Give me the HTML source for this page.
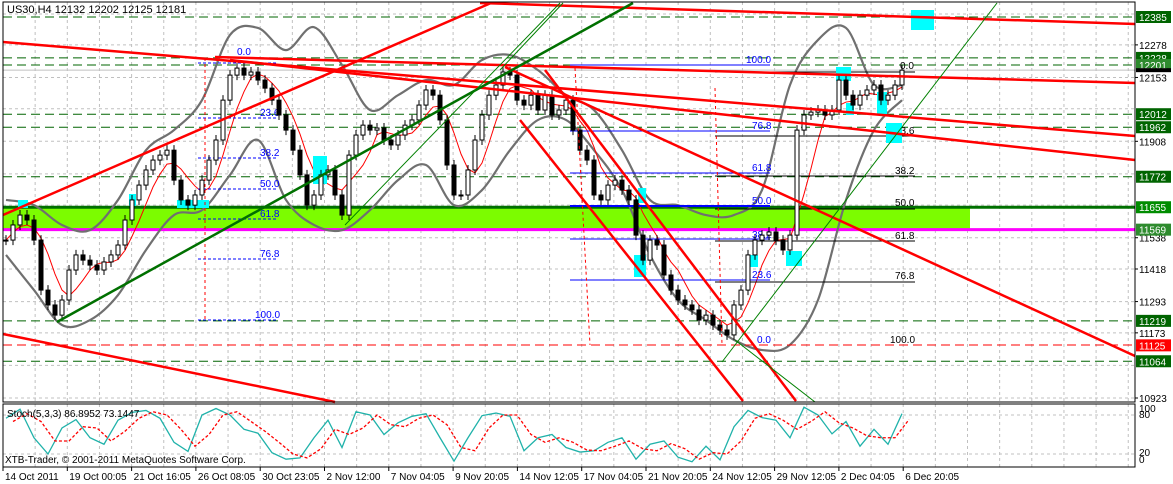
<!DOCTYPE html>
<html><head><meta charset="utf-8"><style>
html,body{margin:0;padding:0;background:#fff;}
svg{display:block;font-family:"Liberation Sans",sans-serif;}
</style></head><body>
<svg id="chart" width="1173" height="484" viewBox="0 0 1173 484" xmlns="http://www.w3.org/2000/svg">
<rect x="0" y="0" width="1173" height="484" fill="#fff"/>
<g id="grid"></g>
<g id="levels">
  <rect x="3" y="207" width="967" height="22" fill="#7cfc00"/>
</g>
<g id="bands"></g>
<g id="fibs" font-size="10" fill="#0000ff">
  <g stroke="#0000ff" stroke-width="1" stroke-dasharray="3,2">
    <line x1="198" y1="63" x2="278" y2="63"/><line x1="198" y1="118" x2="278" y2="118"/><line x1="198" y1="158" x2="278" y2="158"/><line x1="198" y1="189" x2="278" y2="189"/><line x1="198" y1="219" x2="278" y2="219"/><line x1="198" y1="259" x2="278" y2="259"/><line x1="198" y1="320" x2="278" y2="320"/>
  </g>
  <text x="237" y="55">0.0</text>
  <text x="260" y="116">23.6</text>
  <text x="260" y="156">38.2</text>
  <text x="260" y="187">50.0</text>
  <text x="260" y="217">61.8</text>
  <text x="260" y="257">76.8</text>
  <text x="255" y="318">100.0</text>
  <g stroke="#0000ff" stroke-width="1">
    <line x1="570" y1="65" x2="770" y2="65"/><line x1="570" y1="131" x2="770" y2="131"/><line x1="570" y1="173" x2="770" y2="173"/><line x1="570" y1="206" x2="770" y2="206" stroke-width="2"/><line x1="570" y1="239" x2="770" y2="239"/><line x1="570" y1="280" x2="770" y2="280"/>
  </g>
  <text x="746" y="63">100.0</text>
  <text x="752" y="129">76.8</text>
  <text x="752" y="171">61.8</text>
  <text x="752" y="204">50.0</text>
  <text x="752" y="238">38.2</text>
  <text x="752" y="278">23.6</text>
  <text x="757" y="343">0.0</text>
  <g stroke="#000" stroke-width="1">
    <line x1="715" y1="72" x2="915" y2="72"/><line x1="715" y1="136" x2="915" y2="136"/><line x1="715" y1="176" x2="915" y2="176"/><line x1="715" y1="209" x2="915" y2="209"/><line x1="715" y1="241" x2="915" y2="241"/><line x1="715" y1="282" x2="915" y2="282"/>
  </g>
  <g fill="#000">
  <text x="900" y="69">0.0</text>
  <text x="895" y="134">23.6</text>
  <text x="895" y="174">38.2</text>
  <text x="895" y="206">50.0</text>
  <text x="895" y="239">61.8</text>
  <text x="895" y="279">76.8</text>
  <text x="890" y="343">100.0</text>
  </g>
</g>
<g id="boxes" fill="#00ffff">
  <rect x="911" y="10" width="23" height="20"/><rect x="836" y="67" width="15" height="14"/><rect x="877" y="92" width="10" height="22"/><rect x="886" y="123" width="16" height="20"/><rect x="846" y="103" width="8" height="12"/>
  <rect x="313" y="156" width="14" height="28"/><rect x="129" y="194" width="7" height="12"/><rect x="177" y="200" width="32" height="8"/><rect x="18" y="200" width="10" height="8"/><rect x="638" y="188" width="8" height="15"/><rect x="634" y="255" width="12" height="22"/><rect x="786" y="251" width="16" height="15"/><rect x="750" y="255" width="8" height="12"/>
</g>
<g id="candles"></g>
<g id="trend" stroke-linecap="butt" fill="none">
  <g stroke="#ff0000" stroke-width="2.5">
    <line x1="3" y1="42" x2="1135" y2="136"/>
    <line x1="215" y1="57" x2="1135" y2="83"/>
    <line x1="230" y1="60" x2="1135" y2="160"/>
    <line x1="480" y1="3" x2="1135" y2="24"/>
    <line x1="3" y1="215" x2="491" y2="3"/>
    <line x1="520" y1="120" x2="743" y2="401"/>
    <line x1="545" y1="70" x2="796" y2="401"/>
    <line x1="505" y1="67" x2="1135" y2="356"/>
    <line x1="3" y1="334" x2="335" y2="402"/>
  </g>
  <g stroke="#ff0000" stroke-width="1" stroke-dasharray="3,3">
    <line x1="205" y1="58" x2="205" y2="320"/><line x1="575" y1="68" x2="590" y2="345"/><line x1="715" y1="88" x2="722" y2="345"/>
  </g>
  <line x1="3" y1="345" x2="1135" y2="345" stroke="#ff0000" stroke-width="1" stroke-dasharray="9,5"/>
  <line x1="57" y1="322" x2="633" y2="3" stroke="#007000" stroke-width="2.5"/>
  <g stroke="#008000" stroke-width="1">
    <line x1="345" y1="225" x2="560" y2="3"/><line x1="500" y1="70" x2="563" y2="3"/><line x1="722" y1="362" x2="997" y2="3"/><line x1="735" y1="340" x2="815" y2="402"/>
  </g>
</g>
<g id="axis" font-size="10"></g>
<g id="stoch"></g>
<rect x="3" y="2" width="1132" height="400" fill="none" stroke="#000" stroke-width="1"/>
<rect x="3" y="404" width="1132" height="63" fill="none" stroke="#000" stroke-width="1"/>
<text x="7" y="13" font-size="11" fill="#000">US30,H4  12132 12202 12125 12181</text>
<text x="7" y="417" font-size="10" fill="#000">Stoch(5,3,3) 86.8952 73.1447</text>
<text x="5" y="463" font-size="10" fill="#000">XTB-Trader, © 2001-2011 MetaQuotes Software Corp.</text>
<g id="xaxis" font-size="10"></g>
</svg>
<script>
const closes=[11529,11587,11625,11606,11529,11337,11280,11241,11299,11414,11472,11452,11433,11414,11445,11472,11510,11606,11683,11740,11798,11836,11855,11874,11759,11683,11663,11702,11759,11836,11913,12066,12162,12189,12162,12174,12143,12112,12066,12009,11951,11874,11779,11663,11702,11779,11798,11702,11625,11855,11932,11970,11951,11959,11913,11894,11932,11970,11990,12047,12105,12085,11990,11817,11702,11702,11798,11913,12009,12085,12124,12174,12162,12066,12047,12085,12028,12085,12009,12028,12066,11951,11874,11836,11702,11683,11740,11759,11721,11683,11548,11452,11529,11510,11395,11337,11299,11280,11261,11222,11241,11203,11184,11165,11280,11337,11472,11529,11548,11560,11529,11491,11548,11951,12009,12020,12028,12009,12028,12143,12085,12047,12085,12105,12124,12066,12085,12124,12181];
const bandUpper=[11683,11663,11587,11567,11683,11874,11951,12066,12316,12343,12258,12346,12201,12028,12085,12143,12124,12220,12239,12181,12085,12028,11874,11683,11663,11625,11625,11721,12124,12297,12343,12124,12124];
const bandLower=[11472,11337,11203,11222,11318,11491,11625,11644,11779,11913,11683,11587,11567,11644,11759,11817,11663,11721,11874,11990,11990,11874,11721,11472,11299,11222,11146,11107,11127,11299,11683,11951,12066];
const stochMain=[75,89,45,20,60,73,45,35,72,84,87,75,38,24,80,90,80,58,52,22,12,14,45,72,30,85,80,50,68,78,82,45,9,45,79,83,78,25,45,50,30,23,25,38,45,12,35,40,15,8,32,11,62,87,76,72,45,92,80,51,70,32,58,35,82];
const stochSignal=[70,82,70,40,40,62,60,40,55,75,85,80,58,32,50,80,85,70,55,38,20,14,28,58,50,60,80,65,62,75,80,65,30,25,60,80,80,50,38,45,38,26,25,32,40,28,25,36,28,12,22,20,40,75,82,72,58,70,85,68,60,48,45,45,73];
const priceTicks=[12278,12153,11908,11538,11418,11293,11173,10923];
const gridTicks=[12278,12153,12033,11908,11783,11663,11538,11418,11293,11173,11048,10923];
const levelTags=[[12385,"#006400"],[12228,"#006400"],[12201,"#2e8b2e"],[12012,"#006400"],[11962,"#006400"],[11772,"#006400"],[11655,"#008c00"],[11569,"#2e8b2e"],[11219,"#006400"],[11064,"#006400"]];
const dashedLevels=[12385,12228,12201,12012,11962,11772,11219,11064];
const dateLabels=["14 Oct 2011","19 Oct 00:05","21 Oct 16:05","26 Oct 08:05","30 Oct 23:05","2 Nov 12:00","7 Nov 04:05","9 Nov 20:05","14 Nov 12:05","17 Nov 04:05","21 Nov 20:05","24 Nov 12:05","29 Nov 12:05","2 Dec 04:05","6 Dec 20:05"];
const stochTicks=[80,20];

const NS="http://www.w3.org/2000/svg";
const yP=p=>17+(12385-p)*0.2606;
const xB=i=>6+i*7;
const yS=v=>415+(80-v)*0.65;
function mk(tag,attrs,parent){const e=document.createElementNS(NS,tag);for(const k in attrs)e.setAttribute(k,attrs[k]);parent.appendChild(e);return e;}
function smooth(pts){let d='M'+pts[0][0]+','+pts[0][1];
  for(let i=0;i<pts.length-1;i++){const p0=pts[Math.max(0,i-1)],p1=pts[i],p2=pts[i+1],p3=pts[Math.min(pts.length-1,i+2)];
    const c1=[p1[0]+(p2[0]-p0[0])/6,p1[1]+(p2[1]-p0[1])/6],c2=[p2[0]-(p3[0]-p1[0])/6,p2[1]-(p3[1]-p1[1])/6];
    d+=' C'+c1[0]+','+c1[1]+' '+c2[0]+','+c2[1]+' '+p2[0]+','+p2[1];}
  return d;}

const grid=document.getElementById('grid');
for(let k=0;k<36;k++){const x=3+k*32.15;if(x>1135)break;
  const l=mk('line',{x1:x,y1:2,x2:x,y2:467,stroke:'#c0c0c0','stroke-dasharray':'3,3'},grid);
  }
gridTicks.forEach(p=>{const l=mk('line',{x1:3,y1:yP(p),x2:1135,y2:yP(p),stroke:'#c0c0c0','stroke-dasharray':'3,3'},grid);
  });
stochTicks.forEach(v=>{const l=mk('line',{x1:3,y1:yS(v),x2:1135,y2:yS(v),stroke:'#c0c0c0','stroke-dasharray':'3,3'},grid);
  });
mk('line',{x1:3,y1:14,x2:1135,y2:14,stroke:'#c0c0c0','stroke-dasharray':'3,3'},grid);

const lv=document.getElementById('levels');
dashedLevels.forEach(p=>{const l=mk('line',{x1:3,y1:yP(p),x2:1135,y2:yP(p),stroke:'#006400','stroke-width':1,'stroke-dasharray':'9,5'},lv);
  });
let g1=mk('line',{x1:3,y1:yP(11655),x2:1135,y2:yP(11655),stroke:'#007000','stroke-width':3},lv);

let g2=mk('line',{x1:3,y1:yP(11569),x2:1135,y2:yP(11569),stroke:'#ff00ff','stroke-width':3},lv);

let cur=mk('line',{x1:3,y1:yP(12181),x2:1135,y2:yP(12181),stroke:'#c0c0c0','stroke-width':1},lv);


const bd=document.getElementById('bands');
[bandUpper,bandLower].forEach((arr,j)=>{const pts=arr.map((p,i)=>[xB(i*4),yP(p)]);
  const pl=mk('path',{d:smooth(pts),fill:'none',stroke:'#707070','stroke-width':2.2},bd);
  });
const ma=[];for(let i=0;i<closes.length;i++){let s=0,n=0;for(let j=Math.max(0,i-4);j<=i;j++){s+=closes[j];n++;}ma.push(s/n);}
const mal=mk('polyline',{points:ma.map((p,i)=>xB(i)+','+yP(p)).join(' '),fill:'none',stroke:'#ff0000','stroke-width':1},bd);


const cg=document.getElementById('candles');
closes.forEach((c,i)=>{const o=i?closes[i-1]:c;const x=xB(i);const yt=yP(Math.max(o,c)),yb=yP(Math.min(o,c));
  const w=mk('line',{x1:x,y1:yt-5,x2:x,y2:yb+5,stroke:'#000','stroke-width':1},cg);
  
  const r=mk('rect',{x:x-2,y:yt,width:4,height:Math.max(1,yb-yt),fill:c>=o?'#fff':'#000',stroke:'#000','stroke-width':1},cg);
  });

const ax=document.getElementById('axis');
priceTicks.forEach(p=>{const t=mk('text',{x:1139,y:yP(p)+4,fill:'#000'},ax);t.textContent=p;
  
  mk('line',{x1:1135,y1:yP(p),x2:1138,y2:yP(p),stroke:'#000'},ax);});
levelTags.forEach(([p,col])=>{const r=mk('rect',{x:1136,y:yP(p)-6,width:35,height:12,fill:col},ax);
  
  const t=mk('text',{x:1139,y:yP(p)+4,fill:'#fff'},ax);t.textContent=p;
  });
let rr=mk('rect',{x:1136,y:yP(11125)-6,width:35,height:12,fill:'#ff0000'},ax);

let rt=mk('text',{x:1139,y:yP(11125)+4,fill:'#fff'},ax);rt.textContent='11125';

let bk=mk('rect',{x:1136,y:yP(12181)-2,width:35,height:4,fill:'#000'},ax);

[[100,412],[80,418],[20,456],[0,463]].forEach(([v,y])=>{const t=mk('text',{x:1139,y:y,fill:'#000'},ax);t.textContent=v;
  });

const st=document.getElementById('stoch');
const sm=mk('polyline',{points:stochMain.map((v,i)=>xB(i*2)+','+yS(v)).join(' '),fill:'none',stroke:'#20b2aa','stroke-width':1.3},st);

const ss=mk('polyline',{points:stochSignal.map((v,i)=>xB(i*2+1)+','+yS(v)).join(' '),fill:'none',stroke:'#ff0000','stroke-width':1.3,'stroke-dasharray':'3,2'},st);


const xa=document.getElementById('xaxis');
dateLabels.forEach((d,k)=>{const x=3+k*64.3;const t=mk('text',{x:x+2,y:480,fill:'#000'},xa);t.textContent=d;
  
  mk('line',{x1:x,y1:467,x2:x,y2:471,stroke:'#000'},xa);});
</script>
</body></html>
